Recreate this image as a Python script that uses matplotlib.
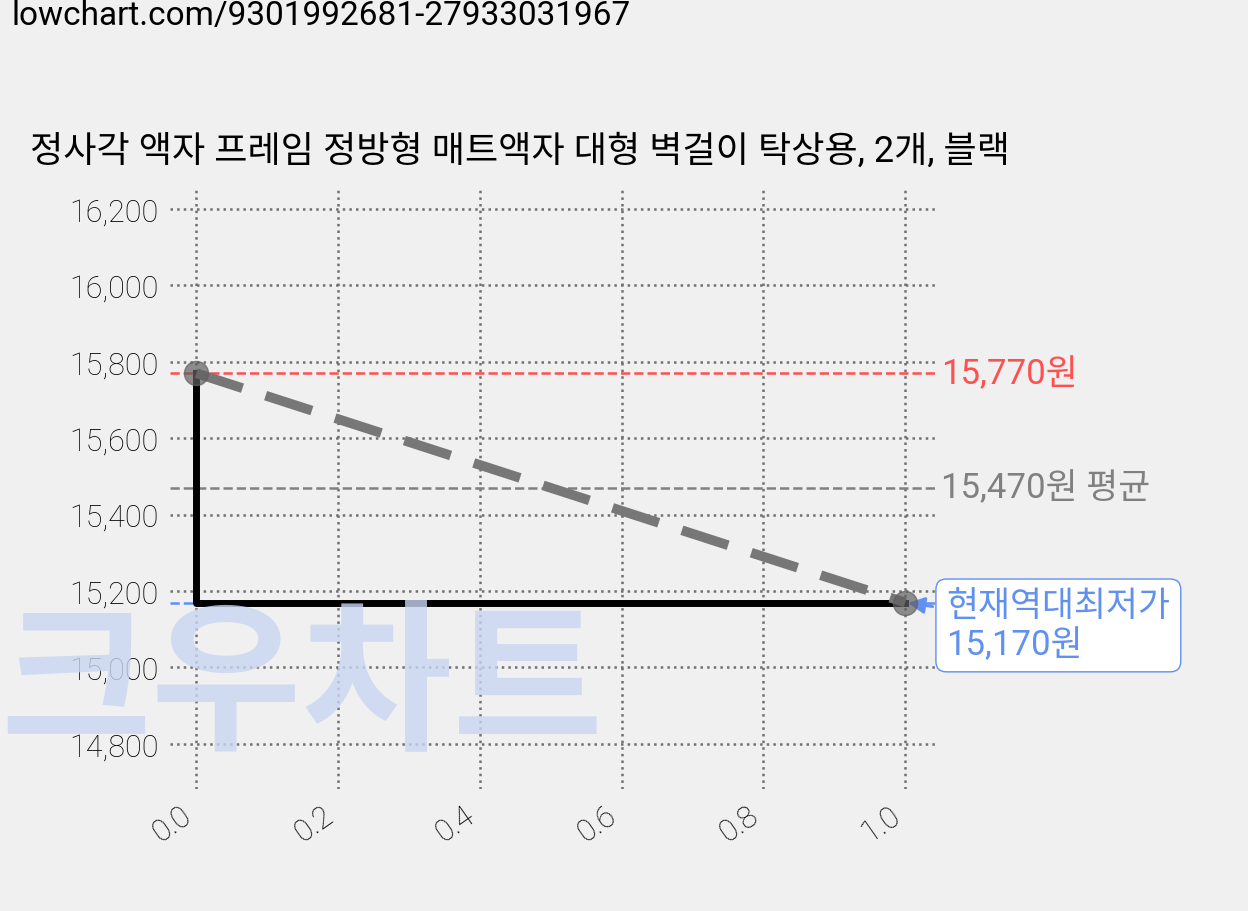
import matplotlib
matplotlib.use("Agg")
import matplotlib.pyplot as plt

plt.rcParams['font.family'] = ['Roboto', 'Noto Sans CJK KR', 'DejaVu Sans']

xs = [0.0, 1.0]
prices = [15770, 15170]
max_price = 15770
avg_price = 15470
min_price = 15170
title = "정사각 액자 프레임 정방형 매트액자 대형 벽걸이 탁상용, 2개, 블랙"
yticks = [14800, 15000, 15200, 15400, 15600, 15800, 16000, 16200]
xticks = [0.0, 0.2, 0.4, 0.6, 0.8, 1.0]

fig = plt.figure(figsize=(12.48, 9.12), dpi=100)
fig.patch.set_facecolor('#f0f0f0')
ax = fig.add_axes([170/1248, 1-790/912, (935-170)/1248, (790-190)/912])
ax.set_facecolor('#f0f0f0')
ax.set_xlim(-0.037, 1.042)
ax.set_ylim(14682, 16252)

fig.text(0.0, 1-688/912, "크우차트", fontsize=118, fontweight='black', color='#c8d6f2', alpha=0.8,
         family=['Noto Sans CJK KR'], ha='left', va='center', zorder=0)

ax.grid(True, linestyle=':', color='#707070', linewidth=1.8)
for s in ax.spines.values():
    s.set_visible(False)
ax.set_yticks(yticks)
ax.set_yticklabels([f"{v:,}" for v in yticks], fontsize=22, fontweight='light')
ax.set_xticks(xticks)
ax.set_xticklabels([f"{v:.1f}" for v in xticks], fontsize=22, rotation=35, ha='right',
                   fontweight='light', color='black')
ax.tick_params(length=0, pad=8)

ax.axhline(max_price, color='#ff5050', linestyle='--', linewidth=1.8, zorder=2)
ax.axhline(avg_price, color='#808080', linestyle='--', linewidth=1.8, zorder=2)
ax.axhline(min_price, color='#6090f0', linestyle='--', linewidth=1.8, zorder=2)

ax.plot([xs[0], xs[0], xs[1]], [prices[0], prices[1], prices[1]], color='black', linewidth=5, zorder=3)
ax.plot(xs, prices, color='#777777', linestyle='--', linewidth=7, dashes=(5, 2.5), zorder=4)
ax.scatter(xs, prices, s=300, color='#606060', alpha=0.7, zorder=5)

ax.text(1.05, max_price, f"{max_price:,}원", color='#ff5050', fontsize=25, va='center', clip_on=False)
ax.text(1.05, avg_price, f"{avg_price:,}원 평균", color='#808080', fontsize=25, va='center', clip_on=False)
ax.annotate(f"현재역대최저가\n{min_price:,}원", xy=(1.0, min_price), xytext=(1.058, min_price - 60),
            color='#6090f0', fontsize=25, va='center', ha='left', linespacing=1.2,
            bbox=dict(boxstyle='round,pad=0.3', fc='white', ec='#6090f0'),
            arrowprops=dict(arrowstyle='-|>', color='#6090f0', lw=2), annotation_clip=False)

fig.text(12/1248, 1-16/912, "lowchart.com/9301992681-27933031967", fontsize=24, va='center', ha='left')
fig.text(30/1248, 1-152/912, title, fontsize=26, va='center', ha='left')

fig.savefig("out.png", dpi=100, facecolor=fig.get_facecolor())
